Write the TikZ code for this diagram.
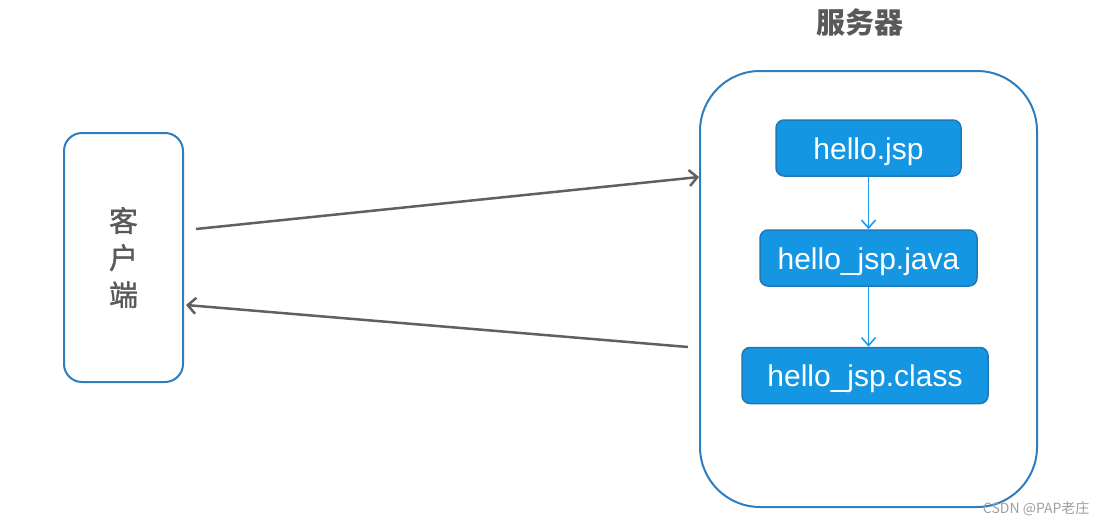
\documentclass[tikz,border=0pt]{standalone}
\usepackage{fontspec}
\setmainfont{Liberation Sans}
\newfontfamily\cjk{Noto Sans CJK SC}
\newfontfamily\cjkthick[FakeBold = 1.2]{Noto Sans CJK SC}
\usetikzlibrary{arrows.meta}

\definecolor{frameblue}{HTML}{2E7DBE}
\definecolor{fileblue}{HTML}{1596E2}
\definecolor{fileedge}{HTML}{1E78B8}
\definecolor{linkblue}{HTML}{1E9BE6}
\definecolor{textgray}{HTML}{595959}
\definecolor{arrowgray}{HTML}{606060}

\tikzset{
	frame/.style = {draw = frameblue, line width = 2pt, inner sep = 0pt},
	file/.style = {draw = fileedge, fill = fileblue, line width = 1.5pt, rounded corners = 8pt,
		text = white, font = \fontsize{30}{34}\selectfont, inner sep = 0pt, minimum height = 56pt,
		text height = 24pt, text depth = 2pt},
	link/.style = {->, draw = linkblue, line width = 1.6pt, > = {Straight Barb[length = 8pt, width = 14pt]}},
	call/.style = {->, draw = arrowgray, line width = 2.5pt}
}

\begin{document}
\begin{tikzpicture}[x = 1pt, y = -1pt, > = {Straight Barb[length = 8pt, width = 16pt]}]

	\useasboundingbox (0, 0) rectangle (1108, 525);

	% Client

	\node [frame, minimum width = 119pt, minimum height = 249pt, rounded corners = 18pt,
		align = center, text = textgray, font = \cjkthick\fontsize{29}{37}\selectfont] (client) at (123.5, 257.5) {客\\户\\端};

	% Server

	\node [frame, minimum width = 337pt, minimum height = 436pt, rounded corners = 60pt] (server) at (868.5, 289) {};
	\node [text = textgray, font = \cjk\bfseries\fontsize{29}{34}\selectfont] (title) at (860, 22) {服务器};

	\node [file, minimum width = 185pt] (jsp) at (868.5, 148) {hello.jsp};
	\node [file, minimum width = 217pt] (java) at (868.5, 258) {hello\_jsp.java};
	\node [file, minimum width = 246pt] (class) at (865, 375.5) {hello\_jsp.class};

	\draw [link] (jsp.south) -- (java.north);
	\draw [link] (java.south) -- ([xshift = 3.5pt]class.north);

	% Request and response

	\draw [call] ([shift = {(12, -28.5)}]client.east) -- ([shift = {(0, -112)}]server.west);
	\draw [call] ([shift = {(-11, 58)}]server.west) -- ([shift = {(2, 47.5)}]client.east);

	\node [anchor = east, text = gray!75, font = \cjk\fontsize{14}{16}\selectfont] (mark) at (1093, 509) {CSDN @PAP老庄};

\end{tikzpicture}
\end{document}
